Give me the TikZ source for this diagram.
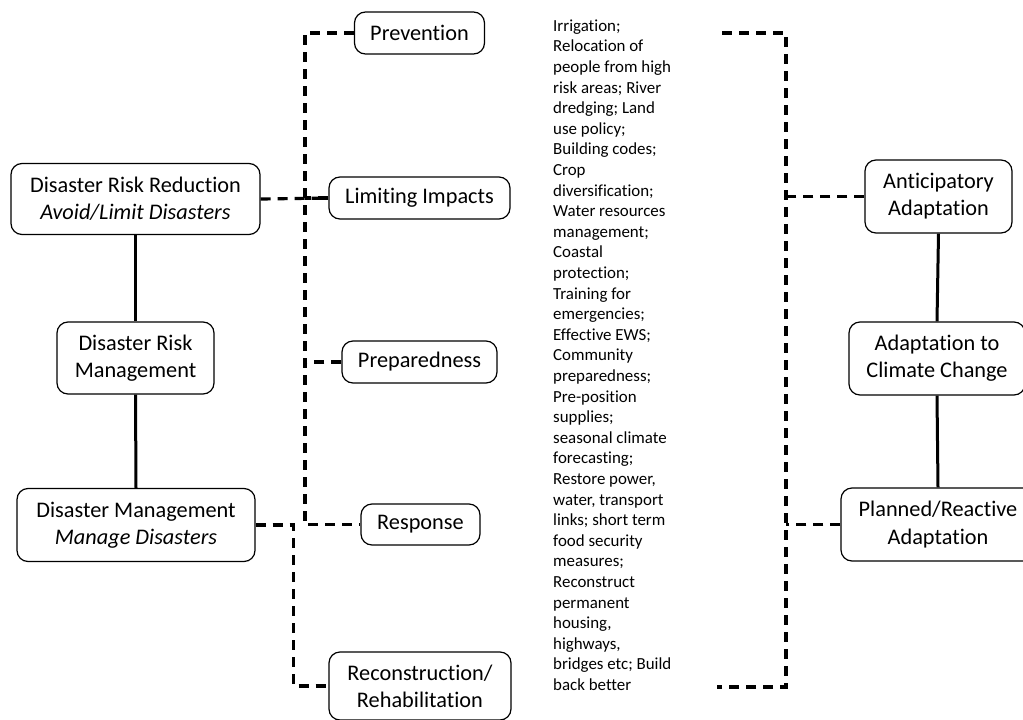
\documentclass[tikz,border=0pt]{standalone}
\usepackage{fontspec}
\setmainfont{Carlito}[Ligatures=NoCommon]
\usetikzlibrary{positioning,calc}

\tikzset{
    box/.style={draw, line width=1.2pt, rounded corners=11pt, align=center, inner sep=0pt,
        font=\fontsize{22.3}{27.2}\selectfont},
    link/.style={line width=3pt},
    dlink/.style={line width=3.2pt, dash pattern=on 10pt off 7pt}
}

\begin{document}
\begin{tikzpicture}[x=1pt, y=-1pt]
    \useasboundingbox (0,0) rectangle (1023,720);

    % Disaster side
    \node[box, minimum width=249pt, minimum height=71pt] (drr) at (135.5,199)
        {Disaster Risk Reduction\\\textit{Avoid/Limit Disasters}};
    \node[box, minimum width=157pt, minimum height=72pt] (drm) at (135.5,358)
        {Disaster Risk\\Management};
    \node[box, minimum width=238pt, minimum height=73pt] (dm) at (136,525)
        {Disaster Management\\\textit{Manage Disasters}};
    \draw[link] (drr.south) -- (drm.north);
    \draw[link] (drm.south) -- (dm.north);

    % Phases
    \node[box, minimum width=130pt, minimum height=42pt] (prev) at (419.5,33) {Prevention};
    \node[box, minimum width=181pt, minimum height=42pt] (lim) at (419.5,198) {Limiting Impacts};
    \node[box, minimum width=155pt, minimum height=42pt] (prep) at (419.5,362) {Preparedness};
    \node[box, minimum width=119pt, minimum height=41pt] (resp) at (420.5,524.5) {Response};
    \node[box, minimum width=182pt, minimum height=68pt] (recon) at (420,686)
        {Reconstruction/\\Rehabilitation};

    \draw[dlink] (prev.west) -- ++(-49,0) coordinate (bus) |- (resp.west);
    \draw[dlink] (lim.west) -- (lim.west -| bus);
    \draw[dlink] (prep.west) -- (prep.west -| bus);
    \draw[dlink] (drr.east) -- (lim.west);
    \draw[dlink] (dm.east) -- ++(38,0) |- (recon.west);

    % Measures
    \node[anchor=north west, inner sep=0pt, align=left,
        font=\fontsize{16.9}{20.6}\selectfont] (measures) at (553,19.5)
        {Irrigation;\\Relocation of\\people from high\\risk areas; River\\dredging; Land\\
         use policy;\\Building codes;\\Crop\\diversification;\\Water resources\\
         management;\\Coastal\\protection;\\Training for\\emergencies;\\Effective EWS;\\
         Community\\preparedness;\\Pre-position\\supplies;\\seasonal climate\\
         forecasting;\\Restore power,\\water, transport\\links; short term\\
         food security\\measures;\\Reconstruct\\permanent\\housing,\\highways,\\
         bridges etc; Build\\back better};

    % Adaptation side
    \node[box, minimum width=147pt, minimum height=73pt] (ant) at (938.5,196.5)
        {Anticipatory\\Adaptation};
    \node[box, minimum width=176pt, minimum height=73pt] (acc) at (937,358.5)
        {Adaptation to\\Climate Change};
    \node[box, minimum width=194pt, minimum height=73pt] (pra) at (938,524.5)
        {Planned/Reactive\\Adaptation};
    \draw[link] (ant.south) -- (acc.north);
    \draw[link] (acc.south) -- (pra.north);

    \coordinate (brtop) at (722,33);
    \coordinate (brbot) at (717,687);
    \draw[dlink] (brtop) -- (786,33) coordinate (brne) -- (brne |- brbot) -- (brbot);
    \draw[dlink] (ant.west) -- (ant.west -| brne);
    \draw[dlink] (pra.west) -- (pra.west -| brne);
\end{tikzpicture}
\end{document}
